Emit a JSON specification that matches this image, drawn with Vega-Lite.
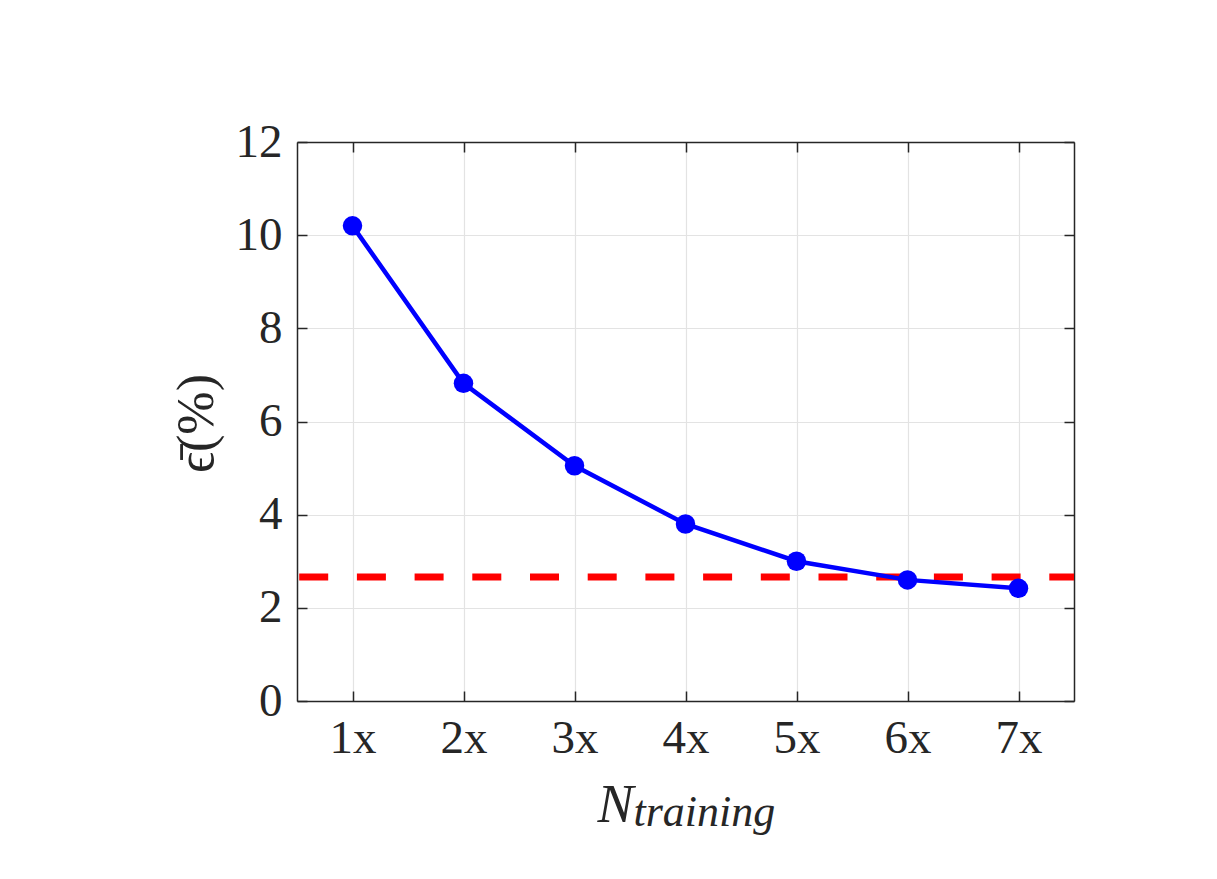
{
  "$schema": "https://vega.github.io/schema/vega-lite/v6.json",
  "width": 777,
  "height": 559,
  "autosize": {"type": "none"},
  "padding": {"left": 297, "top": 142, "right": 143, "bottom": 178},
  "background": "white",
  "config": {
    "view": {"stroke": null},
    "font": "'Liberation Serif', 'Times New Roman', serif",
    "axis": {
      "labelFont": "'Liberation Serif', 'Times New Roman', serif",
      "titleFont": "'Liberation Serif', 'Times New Roman', serif",
      "labelColor": "#262626",
      "titleColor": "#262626",
      "labelFontSize": 47,
      "domainColor": "#262626",
      "domainWidth": 1.5,
      "tickColor": "#262626",
      "tickWidth": 1.5,
      "tickSize": -10,
      "gridColor": "#e3e3e3",
      "gridWidth": 1.2,
      "titleFontWeight": "normal"
    }
  },
  "datasets": {
    "errors": [
      {"N": "1x", "err": 10.2},
      {"N": "2x", "err": 6.82},
      {"N": "3x", "err": 5.05},
      {"N": "4x", "err": 3.8},
      {"N": "5x", "err": 3.0},
      {"N": "6x", "err": 2.6},
      {"N": "7x", "err": 2.42}
    ],
    "reference": [{"baseline": 2.66}]
  },
  "layer": [
    {
      "data": {"name": "reference"},
      "mark": {"type": "rule", "color": "#ff0000", "strokeWidth": 7, "strokeDash": [29, 28.7], "strokeDashOffset": 4.3},
      "encoding": {
        "y": {"field": "baseline", "type": "quantitative", "scale": {"domain": [0, 12], "nice": false}, "axis": null}
      }
    },
    {
      "data": {"name": "errors"},
      "mark": {"type": "line", "color": "#0000ff", "strokeWidth": 4.5},
      "encoding": {
        "x": {
          "field": "N", "type": "ordinal", "sort": null,
          "scale": {"type": "point", "padding": 0.5},
          "axis": {
            "orient": "bottom", "labelAngle": 0, "labelPadding": 24, "grid": true,
            "title": "N", "titleFontStyle": "italic", "titleFontSize": 54,
            "titleX": 318, "titleY": 120, "titleAlign": "center", "titleBaseline": "alphabetic"
          }
        },
        "y": {
          "field": "err", "type": "quantitative",
          "scale": {"domain": [0, 12], "nice": false},
          "axis": {
            "orient": "left", "values": [0, 2, 4, 6, 8, 10, 12], "labelPadding": 25, "grid": true,
            "title": "ϵ̄(%)", "titleFontSize": 52, "titleAngle": 270,
            "titleX": -101, "titleY": 281, "titleAlign": "center", "titleBaseline": "middle"
          }
        }
      }
    },
    {
      "data": {"name": "errors"},
      "mark": {"type": "point", "filled": true, "color": "#0000ff", "size": 380, "opacity": 1},
      "encoding": {
        "x": {
          "field": "N", "type": "ordinal", "sort": null,
          "axis": {
            "orient": "top", "labels": false, "grid": false,
            "title": "training", "titleFontStyle": "italic", "titleFontSize": 44,
            "titleX": 336, "titleY": 683, "titleAlign": "left", "titleBaseline": "alphabetic"
          }
        },
        "y": {
          "field": "err", "type": "quantitative",
          "axis": {"orient": "right", "values": [0, 2, 4, 6, 8, 10, 12], "labels": false, "grid": false, "title": null}
        }
      }
    }
  ]
}
